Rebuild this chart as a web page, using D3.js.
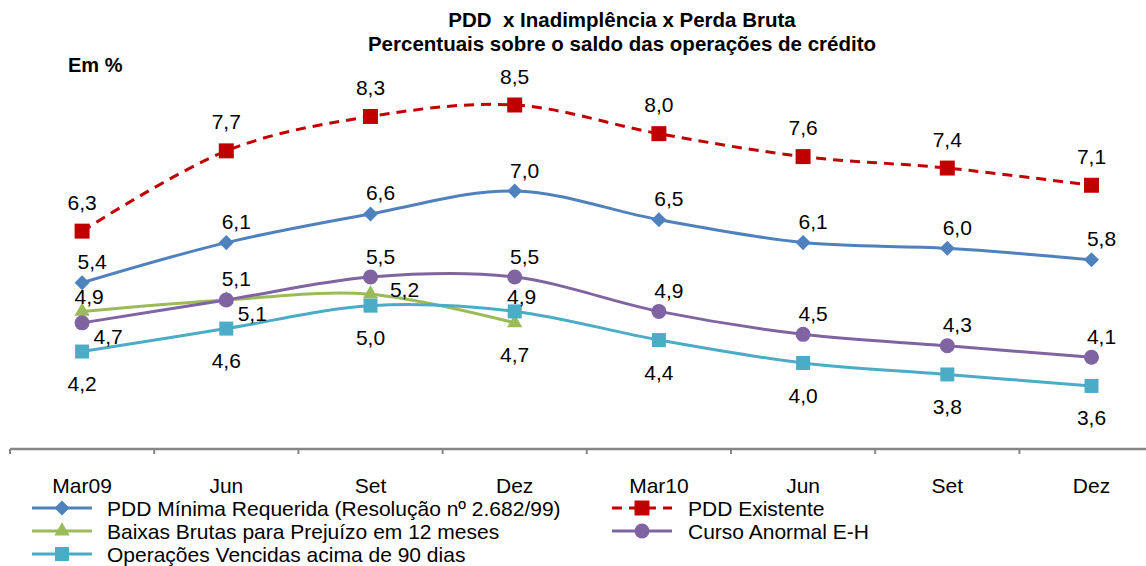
<!DOCTYPE html>
<html>
<head>
<meta charset="utf-8">
<script src="https://cdn.jsdelivr.net/npm/d3@7"></script>
<style>
  body { margin: 0; background: #fff; }
  svg text { font-family: Arial, "Liberation Sans", sans-serif; fill: #000; }
</style>
</head>
<body>
<div id="chart"></div>
<script>
// categories (quarters)
var periods = ["Mar09", "Jun", "Set", "Dez", "Mar10", "Jun", "Set", "Dez"];

// series values, % over credit balance
var pddMinima   = [5.4, 6.1, 6.6, 7.0, 6.5, 6.1, 6.0, 5.8];
var pddExistente = [6.3, 7.7, 8.3, 8.5, 8.0, 7.6, 7.4, 7.1];
var baixasBrutas = [4.9, 5.1, 5.2, 4.7];
var cursoAnormal = [4.7, 5.1, 5.5, 5.5, 4.9, 4.5, 4.3, 4.1];
var vencidas90   = [4.2, 4.6, 5.0, 4.9, 4.4, 4.0, 3.8, 3.6];

var titleLines = ["PDD  x Inadimplência x Perda Bruta", "Percentuais sobre o saldo das operações de crédito"];
var unitLabel = "Em %";

// where each data label sits: a = above, ar = above right, at = tight above,
// b = below, r = right, rb = right below
var offsets = {
   a:  [0, -29],
   ar: [10, -21],
   at: [7, -15],
   b:  [0, 32],
   r:  [34, -5],
   rb: [26, 14]
};

var series = [
   {name: "PDD Mínima Requerida (Resolução nº 2.682/99)", values: pddMinima, color: "#4F81BD",
    marker: "diamond", size: 17, dash: null, labels: ["ar","ar","ar","ar","ar","ar","ar","ar"]},
   {name: "PDD Existente", values: pddExistente, color: "#C00000",
    marker: "square", size: 15, dash: "10,7", labels: ["a","a","a","a","a","a","a","a"]},
   {name: "Baixas Brutas para Prejuízo em 12 meses", values: baixasBrutas, color: "#9BBB59",
    marker: "triangle", size: 15, dash: null, labels: ["at","rb","r","b"]},
   {name: "Curso Anormal E-H", values: cursoAnormal, color: "#8064A2",
    marker: "circle", size: 15, dash: null, labels: ["rb","ar","ar","ar","ar","ar","ar","ar"]},
   {name: "Operações Vencidas acima de 90 dias", values: vencidas90, color: "#4BACC6",
    marker: "square", size: 14, dash: null, labels: ["b","b","b","at","b","b","b","b"]}
];

// legend layout: column 1 then column 2
var legendOrder = [0, 2, 4, 1, 3];

var W = 1146, H = 566;
var svg = d3.select("#chart").append("svg")
   .attr("width", W)
   .attr("height", H);

var x = d3.scaleBand()
   .domain(d3.range(periods.length))
   .range([10, 10 + 144.2 * periods.length])
   .padding(0);

var y = d3.scaleLinear()
   .domain([2.5, 10])
   .range([449, 19]);

function fmt(v) { return d3.format(".1f")(v).replace(".", ","); }

function markerPath(type, size) {
   var area;
   if (type == "diamond") area = size * size / 2;
   else if (type == "square") area = size * size;
   else if (type == "triangle") area = size * size * 0.45;
   else area = Math.PI * size * size / 4;
   var sym = {diamond: d3.symbolDiamond2, square: d3.symbolSquare,
              triangle: d3.symbolTriangle, circle: d3.symbolCircle}[type];
   return d3.symbol().type(sym).size(area)();
}

// titles
svg.append("g").selectAll("text")
   .data(titleLines)
   .enter().append("text")
   .attr("x", 622)
   .attr("y", function(d, i) { return 27 + i * 24; })
   .attr("text-anchor", "middle")
   .style("font-weight", "bold")
   .style("font-size", "20.5px")
   .style("white-space", "pre")
   .text(function(d) { return d; });

svg.append("text")
   .attr("x", 68)
   .attr("y", 72)
   .style("font-weight", "bold")
   .style("font-size", "20px")
   .text(unitLabel);

// x axis, labels centered in bands
var axis = svg.append("g")
   .attr("transform", "translate(0," + y(2.5) + ")")
   .call(d3.axisBottom(x).tickSize(0).tickPadding(29).tickFormat(function(i) { return periods[i]; }));
axis.select(".domain").attr("stroke", "#868686").attr("stroke-width", 2.5)
   .attr("d", "M10,0H" + W);
axis.selectAll(".tick text").style("font-size", "21px").attr("fill", "#000");

// tick marks between categories
axis.selectAll(".sep")
   .data(d3.range(periods.length))
   .enter().append("line")
   .attr("class", "sep")
   .attr("x1", function(i) { return x(i); })
   .attr("x2", function(i) { return x(i); })
   .attr("y1", 0)
   .attr("y2", 5)
   .attr("stroke", "#868686")
   .attr("stroke-width", 2);

var line = d3.line()
   .x(function(d, i) { return x(i) + x.bandwidth() / 2; })
   .y(function(d) { return y(d); })
   .curve(d3.curveCatmullRom.alpha(0));

var plots = svg.selectAll(".series")
   .data(series)
   .enter().append("g")
   .attr("class", "series");

plots.append("path")
   .attr("d", function(s) { return line(s.values); })
   .attr("fill", "none")
   .attr("stroke", function(s) { return s.color; })
   .attr("stroke-width", 3)
   .attr("stroke-dasharray", function(s) { return s.dash; });

plots.each(function(s) {
   var g = d3.select(this);
   g.selectAll(".mk")
      .data(s.values)
      .enter().append("path")
      .attr("class", "mk")
      .attr("transform", function(d, i) {
         return "translate(" + (x(i) + x.bandwidth() / 2) + "," + y(d) + ")";
      })
      .attr("d", markerPath(s.marker, s.size))
      .attr("fill", s.color);
});

// data labels on top of everything
plots.each(function(s) {
   d3.select(this.parentNode).append("g").selectAll("text")
      .data(s.values)
      .enter().append("text")
      .attr("x", function(d, i) { return x(i) + x.bandwidth() / 2 + offsets[s.labels[i]][0]; })
      .attr("y", function(d, i) { return y(d) + offsets[s.labels[i]][1]; })
      .attr("dy", "0.36em")
      .attr("text-anchor", "middle")
      .style("font-size", "21px")
      .text(fmt);
});

// legend
var legend = svg.append("g").selectAll("g")
   .data(legendOrder)
   .enter().append("g")
   .attr("transform", function(k, j) {
      var col = j < 3 ? 0 : 1;
      var row = j < 3 ? j : j - 3;
      return "translate(" + (col ? 612 : 32) + "," + (508 + row * 23) + ")";
   });

legend.append("line")
   .attr("x1", 0)
   .attr("x2", 60)
   .attr("stroke", function(k) { return series[k].color; })
   .attr("stroke-width", 3)
   .attr("stroke-dasharray", function(k) { return series[k].dash; });

legend.append("path")
   .attr("transform", "translate(30,0)")
   .attr("d", function(k) { return markerPath(series[k].marker, series[k].size); })
   .attr("fill", function(k) { return series[k].color; });

legend.append("text")
   .attr("x", function(k, j) { return j < 3 ? 75 : 76; })
   .attr("dy", "0.36em")
   .style("font-size", "21px")
   .text(function(k) { return series[k].name; });
</script>
</body>
</html>
